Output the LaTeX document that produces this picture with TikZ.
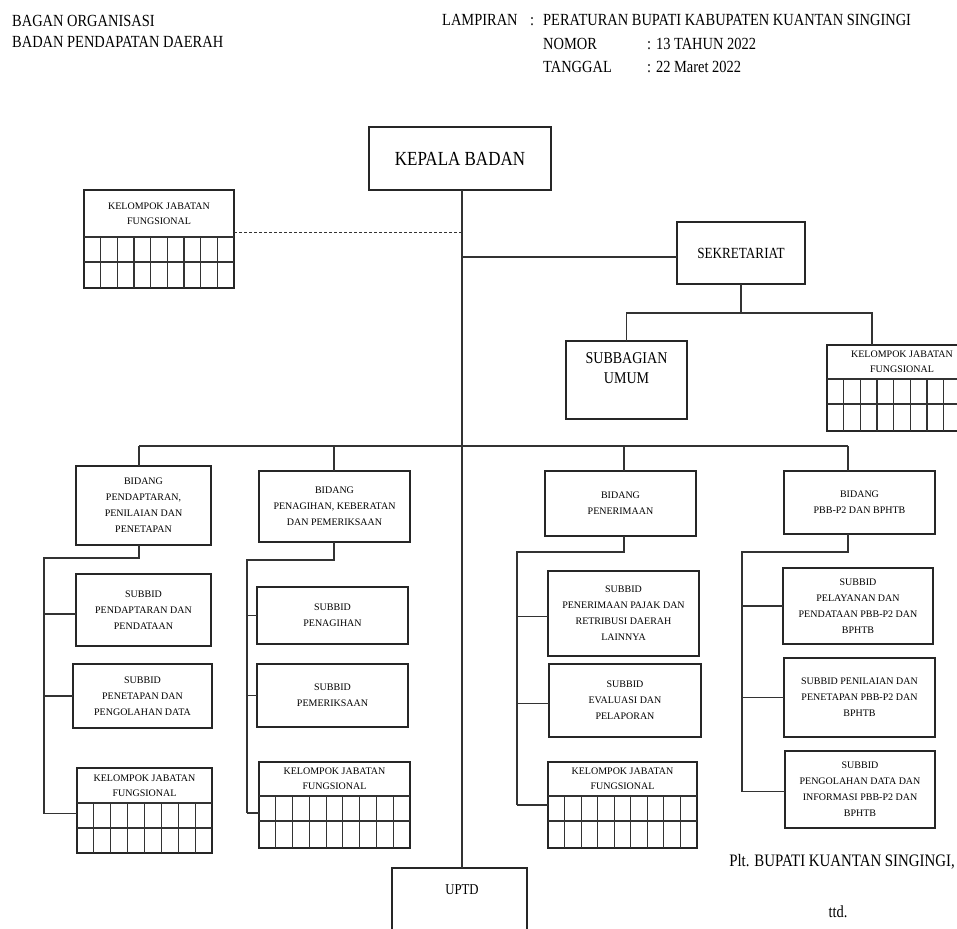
\documentclass[tikz,border=0pt]{standalone}
\usepackage{fontspec}
\setmainfont{Liberation Serif}
\newfontfamily\condf{Liberation Serif}[FakeStretch=0.85]
\newcommand{\bx}[6]{\node[box, txt, minimum width={#4-#2}, minimum height={#5-#3}] (#1) at ({(#2+#4)/2},{(#3+#5)/2}) {#6};}
% #1 name, #2 x1, #3 x2, #4 top, #5 header sep, #6 middle, #7 bottom, #8 internal column lines
\newcommand{\kjf}[8]{%
  \node[box, minimum width={#3-#2}, minimum height={#7-#4}] (#1) at ({(#2+#3)/2},{(#4+#7)/2}) {};
  \node[txt, font=\fontsize{10}{15}\selectfont] (#1t) at ({(#2+#3)/2},{(#4+#5)/2}) {KELOMPOK JABATAN\\FUNGSIONAL};
  \draw[gridl] (#2,#5) -- (#3,#5) (#2,#6) -- (#3,#6);
  \pgfmathsetmacro\cw{(#3-#2)/(#8+1)}
  \foreach \i in {1,...,#8} {\draw[gridl] ({#2+\i*\cw},#5) -- ({#2+\i*\cw},#7);}
}
\begin{document}
\begin{tikzpicture}[x=1pt,y=-1pt,
  box/.style={draw=black!85, line width=1.4pt, inner sep=0pt, outer sep=0pt},
  txt/.style={align=center, font=\fontsize{10}{16}\selectfont, inner sep=0pt},
  conn/.style={draw=black!80, line width=1.3pt},
  gridl/.style={draw=black!80, line width=1.1pt},
  hd/.style={anchor=base west, inner sep=0pt, font=\condf\fontsize{17}{20}\selectfont}]
\fill[white] (0,0) rectangle (957,928);
\clip (0,0) rectangle (957,928);

% header
\node[hd] (h1) at (12,27) {BAGAN ORGANISASI};
\node[hd] (h2) at (12,48) {BADAN PENDAPATAN DAERAH};
\node[hd] (h3) at (442,26) {LAMPIRAN};
\node[hd] (h4) at (530,26) {:};
\node[hd] (h5) at (543,26) {PERATURAN BUPATI KABUPATEN KUANTAN SINGINGI};
\node[hd] (h6) at (543,50) {NOMOR};
\node[hd] (h7) at (647,50) {: 13 TAHUN 2022};
\node[hd] (h8) at (543,73) {TANGGAL};
\node[hd] (h9) at (647,73) {: 22 Maret 2022};

% top
\node[box, minimum width=182, minimum height=63, font=\condf\fontsize{20}{24}\selectfont] (kepala) at (460,158.5) {KEPALA BADAN};
\node[box, minimum width=128, minimum height=62, font=\condf\fontsize{15.5}{18}\selectfont] (sek) at (741,253) {SEKRETARIAT};
\node[box, minimum width=121, minimum height=78] (sub) at (626.5,380) {};
\node[align=center, inner sep=0pt, font=\condf\fontsize{16.5}{20}\selectfont] (subt) at (626.5,368) {SUBBAGIAN\\UMUM};
\node[box, minimum width=135, minimum height=82] (uptd) at (459.5,909) {};
\node[inner sep=0pt, font=\condf\fontsize{15}{18}\selectfont] (uptdt) at (462,890) {UPTD};

\kjf{kjf0}{84}{234}{190}{237}{262}{288}{8}
\kjf{kjfR}{827}{977}{345}{379}{404}{431}{8}

% bidang
\bx{b1}{76}{466}{211}{545}{BIDANG\\PENDAPTARAN,\\PENILAIAN DAN\\PENETAPAN}
\bx{b2}{259}{471}{410}{542}{BIDANG\\PENAGIHAN, KEBERATAN\\DAN PEMERIKSAAN}
\bx{b3}{545}{471}{696}{536}{BIDANG\\PENERIMAAN}
\bx{b4}{784}{471}{935}{534}{BIDANG\\PBB-P2 DAN BPHTB}

% subbid
\bx{s11}{76}{574}{211}{646}{SUBBID\\PENDAPTARAN DAN\\PENDATAAN}
\bx{s12}{73}{664}{212}{728}{SUBBID\\PENETAPAN DAN\\PENGOLAHAN DATA}
\kjf{k1}{77}{212}{768}{803}{828}{853}{7}
\bx{s21}{257}{587}{408}{644}{SUBBID\\PENAGIHAN}
\bx{s22}{257}{664}{408}{727}{SUBBID\\PEMERIKSAAN}
\kjf{k2}{259}{410}{762}{796}{821}{848}{8}
\bx{s31}{548}{571}{699}{656}{SUBBID\\PENERIMAAN PAJAK DAN\\RETRIBUSI DAERAH\\LAINNYA}
\bx{s32}{549}{664}{701}{737}{SUBBID\\EVALUASI DAN\\PELAPORAN}
\kjf{k3}{548}{697}{762}{796}{821}{848}{8}
\bx{s41}{783}{568}{933}{644}{SUBBID\\PELAYANAN DAN\\PENDATAAN PBB-P2 DAN\\BPHTB}
\bx{s42}{784}{658}{935}{737}{SUBBID PENILAIAN DAN\\PENETAPAN PBB-P2 DAN\\BPHTB}
\bx{s43}{785}{751}{935}{828}{SUBBID\\PENGOLAHAN DATA DAN\\INFORMASI PBB-P2 DAN\\BPHTB}

% signature
\node[anchor=base east, inner sep=0pt, font=\condf\fontsize{17.5}{20}\selectfont] (plt) at (955,866) {Plt. BUPATI KUANTAN SINGINGI,};
\node[anchor=base, inner sep=0pt, font=\condf\fontsize{17}{20}\selectfont] (ttd) at (838,917) {ttd.};

% connectors
\coordinate (tx) at (462,0);
\draw[conn] (kepala.south -| tx) -- (uptd.north -| tx);
\draw[conn, line width=1pt, dash pattern=on 3pt off 2pt] ([yshift=7pt]kjf0.east) -- ([yshift=7pt]kjf0.east -| tx);
\draw[conn] ([yshift=-4pt]sek.west) -- ([yshift=-4pt]sek.west -| tx);
\coordinate (sb) at (0,313);
\coordinate (sd2) at (872,0);
\draw[conn] (sek.south) -- (sek.south |- sb);
\draw[conn] (sub.north) -- (sub.north |- sb) -- (sb -| sd2) -- (kjfR.north -| sd2);

\coordinate (bb) at (0,446);
\coordinate (d1) at (139,0);
\coordinate (d2) at (334,0);
\coordinate (d3) at (624,0);
\coordinate (d4) at (848,0);
\draw[conn] (bb -| d1) -- (bb -| d4);
\draw[conn] (bb -| d1) -- (b1.north -| d1);
\draw[conn] (bb -| d2) -- (b2.north -| d2);
\draw[conn] (bb -| d3) -- (b3.north -| d3);
\draw[conn] (bb -| d4) -- (b4.north -| d4);

\coordinate (v1) at (44,558);
\draw[conn] (b1.south -| d1) -- (d1 |- v1) -- (v1) -- ([yshift=-3pt]v1 |- k1.west);
\draw[conn] ([yshift=-4pt]v1 |- s11.west) -- ([yshift=-4pt]s11.west);
\draw[conn] (v1 |- s12.west) -- (s12.west);
\draw[conn] ([yshift=-3pt]v1 |- k1.west) -- ([yshift=-3pt]k1.west);

\coordinate (v2) at (247,560);
\draw[conn] (b2.south -| d2) -- (d2 |- v2) -- (v2) -- ([yshift=-8pt]v2 |- k2.west);
\draw[conn] (v2 |- s21.west) -- (s21.west);
\draw[conn] (v2 |- s22.west) -- (s22.west);
\draw[conn] ([yshift=-8pt]v2 |- k2.west) -- ([yshift=-8pt]k2.west);

\coordinate (v3) at (517,552);
\draw[conn] (b3.south -| d3) -- (d3 |- v3) -- (v3) -- (v3 |- k3.west);
\draw[conn] ([yshift=-3pt]v3 |- s31.west) -- ([yshift=-3pt]s31.west);
\draw[conn] ([yshift=-3pt]v3 |- s32.west) -- ([yshift=-3pt]s32.west);
\draw[conn] (v3 |- k3.west) -- (k3.west);

\coordinate (v4) at (742,552);
\draw[conn] (b4.south -| d4) -- (d4 |- v4) -- (v4) -- ([yshift=-2pt]v4 |- s43.west);
\draw[conn] (v4 |- s41.west) -- (s41.west);
\draw[conn] (v4 |- s42.west) -- (s42.west);
\draw[conn] ([yshift=-2pt]v4 |- s43.west) -- ([yshift=-2pt]s43.west);
\end{tikzpicture}
\end{document}
